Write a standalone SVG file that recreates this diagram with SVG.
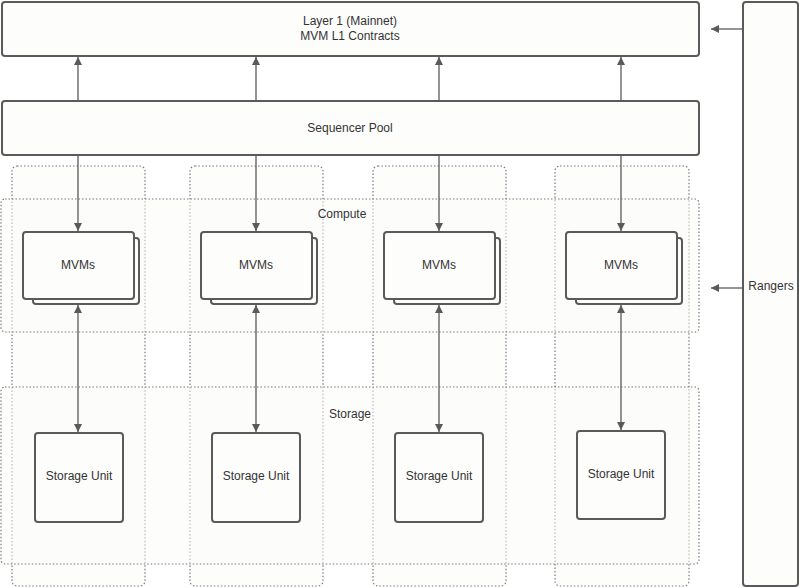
<svg xmlns="http://www.w3.org/2000/svg" width="800" height="588" viewBox="0 0 800 588">
<style>
.box{fill:#fdfdfc;stroke:#5a5a5a;stroke-width:2}
.dot{fill:#fcfbfa;fill-opacity:0.5;stroke:#7a7a7a;stroke-width:1.2;stroke-dasharray:1.5 2}
.t{font-family:"Liberation Sans",Arial,sans-serif;font-size:12px;fill:#333;text-anchor:middle}
.c{stroke:#5a5a5a;stroke-width:1.3;fill:none}
</style>
<defs>
<marker id="a" viewBox="0 0 10 10" refX="10" refY="5" markerWidth="8" markerHeight="8" orient="auto-start-reverse" markerUnits="userSpaceOnUse"><path d="M0,0L10,5L0,10z" fill="#5a5a5a"/></marker>
</defs>
<rect width="800" height="588" fill="#fff"/>
<g id="columns">
<rect class="dot" x="12" y="166" width="133" height="420" rx="5"/>
<rect class="dot" x="190" y="166" width="133" height="420" rx="5"/>
<rect class="dot" x="373" y="166" width="133" height="420" rx="5"/>
<rect class="dot" x="555" y="166" width="134" height="420" rx="5"/>
</g>
<g id="compute"><rect class="dot" x="1" y="199" width="698" height="133" rx="4"/><text class="t" x="342" y="218">Compute</text></g>
<g id="storage"><rect class="dot" x="1" y="387" width="698" height="177" rx="4"/><text class="t" x="350" y="418">Storage</text></g>
<g id="layer1"><rect class="box" x="2" y="2" width="697" height="54" rx="3"/><text class="t" x="350" y="25">Layer 1 (Mainnet)</text><text class="t" x="350" y="40">MVM L1 Contracts</text></g>
<g id="sequencer"><rect class="box" x="2" y="101" width="697" height="54" rx="3"/><text class="t" x="350" y="132">Sequencer Pool</text></g>
<g id="rangers"><rect class="box" x="743" y="2" width="55" height="584" rx="3"/><text class="t" x="771" y="290">Rangers</text></g>
<g id="mvms1"><rect class="box" x="33" y="238" width="106" height="66" rx="3"/><rect class="box" x="23" y="232" width="111" height="67" rx="3"/><text class="t" x="78" y="269">MVMs</text></g>
<g id="mvms2"><rect class="box" x="211" y="238" width="106" height="66" rx="3"/><rect class="box" x="201" y="232" width="111" height="67" rx="3"/><text class="t" x="256" y="269">MVMs</text></g>
<g id="mvms3"><rect class="box" x="394" y="238" width="106" height="66" rx="3"/><rect class="box" x="384" y="232" width="111" height="67" rx="3"/><text class="t" x="439" y="269">MVMs</text></g>
<g id="mvms4"><rect class="box" x="576" y="238" width="106" height="66" rx="3"/><rect class="box" x="566" y="232" width="111" height="67" rx="3"/><text class="t" x="621" y="269">MVMs</text></g>
<g id="su1"><rect class="box" x="35" y="433" width="88" height="89" rx="3"/><text class="t" x="79" y="480">Storage Unit</text></g>
<g id="su2"><rect class="box" x="212" y="433" width="88" height="89" rx="3"/><text class="t" x="256" y="480">Storage Unit</text></g>
<g id="su3"><rect class="box" x="395" y="433" width="88" height="89" rx="3"/><text class="t" x="439" y="480">Storage Unit</text></g>
<g id="su4"><rect class="box" x="577" y="431" width="88" height="88" rx="3"/><text class="t" x="621" y="478">Storage Unit</text></g>
<g id="connectors">
<path class="c" d="M78,101V57" marker-end="url(#a)"/><path class="c" d="M256,101V57" marker-end="url(#a)"/><path class="c" d="M439,101V57" marker-end="url(#a)"/><path class="c" d="M621,101V57" marker-end="url(#a)"/>
<path class="c" d="M78,155V231" marker-end="url(#a)"/><path class="c" d="M256,155V231" marker-end="url(#a)"/><path class="c" d="M439,155V231" marker-end="url(#a)"/><path class="c" d="M621,155V231" marker-end="url(#a)"/>
<path class="c" d="M78,305V432" marker-start="url(#a)" marker-end="url(#a)"/><path class="c" d="M256,305V432" marker-start="url(#a)" marker-end="url(#a)"/><path class="c" d="M439,305V432" marker-start="url(#a)" marker-end="url(#a)"/><path class="c" d="M621,305V430" marker-start="url(#a)" marker-end="url(#a)"/>
<path class="c" d="M743,29H711" marker-end="url(#a)"/><path class="c" d="M743,288H711" marker-end="url(#a)"/>
</g>
</svg>
